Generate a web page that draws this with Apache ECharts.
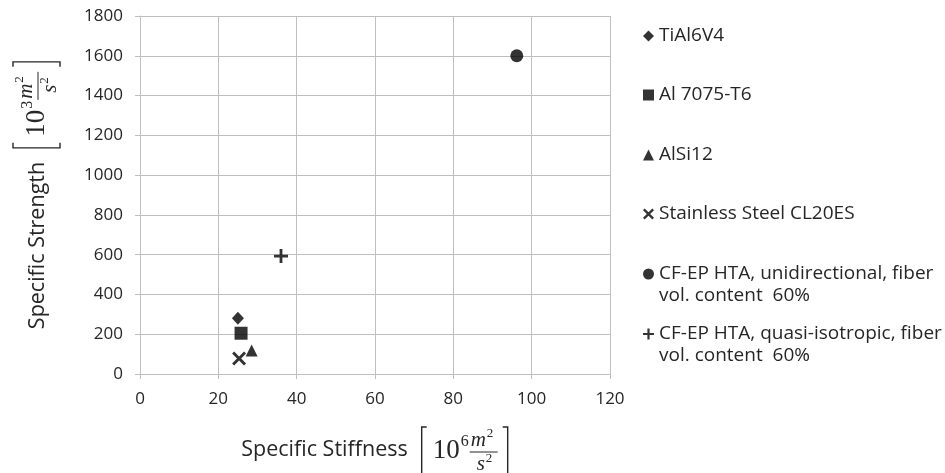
<!DOCTYPE html>
<html>
<head>
<meta charset="utf-8">
<script src="https://cdn.jsdelivr.net/npm/echarts@6/dist/echarts.min.js"></script>
<style>
  html, body { margin: 0; padding: 0; background: #fff; }
  #chart { width: 945px; height: 473px; }
</style>
</head>
<body>
<div id="chart"></div>
<script>
// data
const materials = [
  'TiAl6V4',
  'Al 7075-T6',
  'AlSi12',
  'Stainless Steel CL20ES',
  'CF-EP HTA, unidirectional, fiber\nvol. content  60%',
  'CF-EP HTA, quasi-isotropic, fiber\nvol. content  60%'
]
const stiffness = [25, 25.8, 28.5, 25.3, 96.2, 36]   // 10^6 m2/s2
const strength = [280, 205, 118, 78, 1600, 593]       // 10^3 m2/s2
const xTicks = [0, 20, 40, 60, 80, 100, 120]
const yTicks = [0, 200, 400, 600, 800, 1000, 1200, 1400, 1600, 1800]

const crossPath = 'path://M1.5,0 L5,3.5 L8.5,0 L10,1.5 L6.5,5 L10,8.5 L8.5,10 L5,6.5 L1.5,10 L0,8.5 L3.5,5 L0,1.5 Z'
const plusPath = 'path://M4,0 H6 V4 H10 V6 H6 V10 H4 V6 H0 V4 H4 Z'
const symbols = ['diamond', 'rect', 'triangle', crossPath, 'circle', plusPath]
const symbolSizes = [[12, 13], 13, [12, 12], 14, 13, 14]
// vertical centre of the first line of each legend entry
const legendRows = [36, 95, 155, 214, 274, 334]

const font = 'Open Sans'
const textCol = '#262626'
const grid = {left: 140, right: 335, top: 16, bottom: 99}
const centerX = grid.left + (945 - grid.left - grid.right) / 2
const centerY = grid.top + (473 - grid.top - grid.bottom) / 2

function textWidth (s, size) {
  let c = document.createElement('canvas').getContext('2d')
  c.font = size + 'px "' + font + '"'
  return c.measureText(s).width
}

// the [ 10^n m2/s2 ] part of the axis titles
const FW = 88
const FGAP = 13
function formula (exp) {
  let serif = 'Liberation Serif'
  let t = (text, x, y, size, italic) => ({
    type: 'text', x: x, y: y,
    style: {text: text, fill: textCol, font: (italic ? 'italic ' : '') + size + 'px "' + serif + '"', verticalAlign: 'middle'}
  })
  return [
    {type: 'polyline', shape: {points: [[6, -23], [1, -23], [1, 24], [6, 24]]}, style: {stroke: textCol, lineWidth: 1.4, fill: null}},
    t('10', 12, 1, 27),
    t(exp, 40, -8, 16),
    t('m', 50, -10, 21, true),
    t('2', 66, -16, 13),
    {type: 'line', shape: {x1: 49, y1: 2, x2: 77, y2: 2}, style: {stroke: textCol, lineWidth: 1}},
    t('s', 56, 14, 21, true),
    t('2', 65, 9, 13),
    {type: 'polyline', shape: {points: [[82, -23], [87, -23], [87, 24], [82, 24]]}, style: {stroke: textCol, lineWidth: 1.4, fill: null}}
  ]
}

const xName = 'Specific Stiffness'
const yName = 'Specific Strength'
const nameSize = 21.5
const xw = textWidth(xName, nameSize)
const yw = textWidth(yName, nameSize)

let myChart = echarts.init(document.getElementById('chart'))

let series = materials.map((m, i) => ({
  name: m,
  type: 'scatter',
  symbol: symbols[i],
  symbolSize: symbolSizes[i],
  itemStyle: {color: '#000'},
  data: [[stiffness[i], strength[i]]]
}))

// one legend per entry so the rows keep the wide spacing of the original
let legends = materials.map((m, i) => {
  let twoLines = m.indexOf('\n') >= 0
  return {
    left: 638,
    top: legendRows[i] - 5 - (twoLines ? 33 : 11),
    itemWidth: 11,
    itemHeight: 11,
    itemGap: 0,
    textStyle: {color: textCol, fontSize: 19, fontFamily: font, lineHeight: 22},
    formatter: name => twoLines ? ' \n' + name : name,
    data: [{name: m, icon: symbols[i]}]
  }
})

let nameStyle = {
  rich: {
    t: {fontSize: nameSize, fontFamily: font, color: textCol},
    g: {width: FW + FGAP}
  }
}

let option = {
  animation: false,
  grid: grid,
  legend: legends,
  xAxis: {
    type: 'value',
    min: xTicks[0],
    max: xTicks[xTicks.length - 1],
    interval: xTicks[1] - xTicks[0],
    name: '{t|' + xName + '}{g|}',
    nameLocation: 'middle',
    nameGap: 65,
    nameTextStyle: nameStyle,
    axisLine: {lineStyle: {color: '#bfbfbf'}},
    axisTick: {show: true, length: 5, lineStyle: {color: '#bfbfbf'}},
    axisLabel: {color: textCol, fontSize: 17, fontFamily: font, margin: 17},
    splitLine: {show: true, lineStyle: {color: '#bfbfbf'}}
  },
  yAxis: {
    type: 'value',
    min: yTicks[0],
    max: yTicks[yTicks.length - 1],
    interval: yTicks[1] - yTicks[0],
    name: '{t|' + yName + '}{g|}',
    nameLocation: 'middle',
    nameGap: 91,
    nameTextStyle: nameStyle,
    axisLine: {show: true, lineStyle: {color: '#bfbfbf'}},
    axisTick: {show: true, length: 5, lineStyle: {color: '#bfbfbf'}},
    axisLabel: {color: textCol, fontSize: 17, fontFamily: font, margin: 17, formatter: v => String(v)},
    splitLine: {show: true, lineStyle: {color: '#bfbfbf'}}
  },
  graphic: [
    {
      type: 'group',
      x: centerX - (xw + FGAP + FW) / 2 + xw + FGAP,
      y: 450,
      children: formula('6')
    },
    {
      type: 'group',
      x: 36,
      y: centerY + (yw + FGAP + FW) / 2 - yw - FGAP,
      rotation: Math.PI / 2,
      children: formula('3')
    }
  ],
  series: series
}
myChart.setOption(option)
</script>
</body>
</html>
